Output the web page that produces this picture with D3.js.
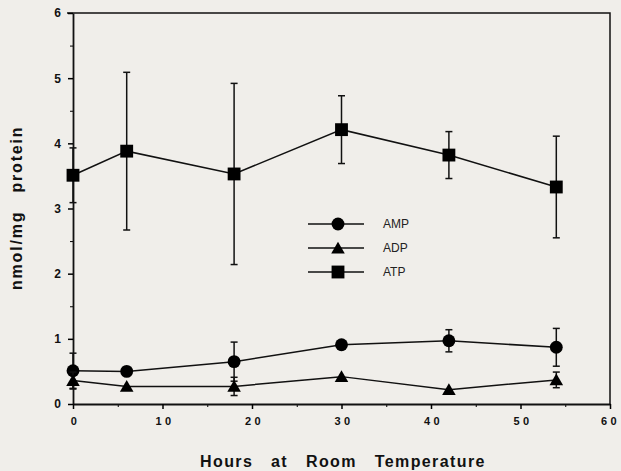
<!DOCTYPE html>
<html>
<head>
<meta charset="utf-8">
<script src="https://cdn.jsdelivr.net/npm/d3@7"></script>
<style>
  body { margin: 0; background: #f0eeea; }
  svg { display: block; font-family: "Liberation Sans", Arial, sans-serif; }
</style>
</head>
<body>
<script>
// hours at room temperature
var hours = [0, 6, 18, 30, 42, 54];

// mean values, nmol/mg protein
var atpValues = [3.51, 3.88, 3.53, 4.21, 3.82, 3.33];
var atpErrors = [0.42, 1.21, 1.39, 0.52, 0.36, 0.78];

var ampValues = [0.51, 0.50, 0.65, 0.91, 0.97, 0.87];
var ampErrors = [0.27, 0, 0.30, 0, 0.17, 0.29];

var adpValues = [0.36, 0.27, 0.27, 0.42, 0.22, 0.37];
var adpErrors = [0.13, 0, 0.14, 0, 0, 0.12];

var seriesNames = ["AMP", "ADP", "ATP"];
var xTicks = [0, 10, 20, 30, 40, 50, 60];
var yTicks = [0, 1, 2, 3, 4, 5, 6];

var width = 621, height = 471;
var margin = { top: 13, right: 11, bottom: 67, left: 73 };

var svg = d3.select("body").append("svg")
    .attr("width", width)
    .attr("height", height);

var x = d3.scaleLinear().domain([0, 60]).range([margin.left, width - margin.right]);
var y = d3.scaleLinear().domain([0, 6]).range([height - margin.bottom, margin.top]);

// frame (top and right)
svg.append("path")
    .attr("d", "M" + (x(0) - 6) + "," + y(6) + "H" + x(60) + "V" + y(0))
    .attr("fill", "none")
    .attr("stroke", "#111")
    .attr("stroke-width", 1.5);

// x axis: minor ticks every 5, major every 10
svg.append("g")
    .attr("transform", "translate(0," + y(0) + ")")
    .call(d3.axisBottom(x).tickValues(d3.range(5, 60, 10)).tickSize(3).tickFormat(""))
    .call(function (g) { g.select(".domain").remove(); });

var xAxis = svg.append("g")
    .attr("transform", "translate(0," + y(0) + ")")
    .call(d3.axisBottom(x).tickValues(xTicks).tickSize(5).tickSizeOuter(0).tickPadding(8)
        .tickFormat(function (d) { return d; }));
xAxis.select(".domain").attr("stroke-width", 1.8).attr("stroke", "#111");
xAxis.selectAll(".tick line").attr("stroke-width", 1.5);
xAxis.selectAll("text")
    .attr("font-size", 11)
    .attr("font-weight", "bold")
    .attr("letter-spacing", 3.5)
    .attr("dx", function (d) { return d === 60 ? 0 : 2; })
    .attr("fill", "#111");

// y axis: minor ticks every 0.5
svg.append("g")
    .attr("transform", "translate(" + x(0) + ",0)")
    .call(d3.axisLeft(y).tickValues(d3.range(0.5, 6, 1)).tickSize(3).tickFormat(""))
    .call(function (g) { g.select(".domain").remove(); });

var yAxis = svg.append("g")
    .attr("transform", "translate(" + x(0) + ",0)")
    .call(d3.axisLeft(y).tickValues(yTicks).tickSize(5).tickSizeOuter(0).tickPadding(7)
        .tickFormat(d3.format("d")));
yAxis.select(".domain").attr("stroke-width", 1.8).attr("stroke", "#111");
yAxis.selectAll(".tick line").attr("stroke-width", 1.5);
yAxis.selectAll("text")
    .attr("font-size", 12)
    .attr("font-weight", "bold")
    .attr("fill", "#111");

// axis titles
svg.append("text")
    .attr("x", 200)
    .attr("y", 467)
    .attr("font-size", 16)
    .attr("font-weight", "bold")
    .attr("letter-spacing", 1.4)
    .attr("word-spacing", 12)
    .attr("fill", "#111")
    .text("Hours at Room Temperature");

svg.append("text")
    .attr("transform", "translate(22,290) rotate(-90)")
    .attr("font-size", 16)
    .attr("font-weight", "bold")
    .attr("letter-spacing", 1.8)
    .attr("word-spacing", 12)
    .attr("fill", "#111")
    .text("nmol/mg protein");

// markers
var symbols = {
    AMP: d3.symbol().type(d3.symbolCircle).size(130),
    ADP: d3.symbol().type(d3.symbolTriangle).size(80),
    ATP: d3.symbol().type(d3.symbolSquare).size(165)
};

var series = [
    { name: "ATP", values: atpValues, errors: atpErrors },
    { name: "AMP", values: ampValues, errors: ampErrors },
    { name: "ADP", values: adpValues, errors: adpErrors }
];

var line = d3.line()
    .x(function (d) { return x(d.t); })
    .y(function (d) { return y(d.v); });

series.forEach(function (s) {
    var pts = hours.map(function (t, i) { return { t: t, v: s.values[i], e: s.errors[i] }; });
    var g = svg.append("g");

    // error bars
    var bars = g.selectAll("g.err")
        .data(pts.filter(function (d) { return d.e > 0; }))
        .enter().append("g")
        .attr("class", "err")
        .attr("stroke", "#111")
        .attr("stroke-width", 1.5);
    bars.append("line")
        .attr("x1", function (d) { return x(d.t); })
        .attr("x2", function (d) { return x(d.t); })
        .attr("y1", function (d) { return y(d.v - d.e); })
        .attr("y2", function (d) { return y(d.v + d.e); });
    [-1, 1].forEach(function (sgn) {
        bars.append("line")
            .attr("x1", function (d) { return x(d.t) - 3.5; })
            .attr("x2", function (d) { return x(d.t) + 3.5; })
            .attr("y1", function (d) { return y(d.v + sgn * d.e); })
            .attr("y2", function (d) { return y(d.v + sgn * d.e); });
    });

    g.append("path")
        .datum(pts)
        .attr("d", line)
        .attr("fill", "none")
        .attr("stroke", "#111")
        .attr("stroke-width", 1.5);

    g.selectAll("path.mark")
        .data(pts)
        .enter().append("path")
        .attr("class", "mark")
        .attr("d", symbols[s.name])
        .attr("transform", function (d) {
            var dy = s.name === "ADP" ? 1.5 : 0;
            return "translate(" + x(d.t) + "," + (y(d.v) + dy) + ")";
        })
        .attr("fill", "#000");
});

// legend
var legend = svg.append("g")
    .selectAll("g")
    .data(seriesNames)
    .enter().append("g")
    .attr("transform", function (d, i) { return "translate(308," + (224 + i * 24) + ")"; });

legend.append("line")
    .attr("x1", 0).attr("x2", 56)
    .attr("stroke", "#111")
    .attr("stroke-width", 1.5);
legend.append("path")
    .attr("d", function (d) { return symbols[d](); })
    .attr("transform", function (d) { return "translate(30," + (d === "ADP" ? 1.5 : 0) + ")"; })
    .attr("fill", "#000");
legend.append("text")
    .attr("x", 75)
    .attr("dy", "0.35em")
    .attr("font-size", 12)
    .attr("fill", "#222")
    .text(function (d) { return d; });
</script>
</body>
</html>
